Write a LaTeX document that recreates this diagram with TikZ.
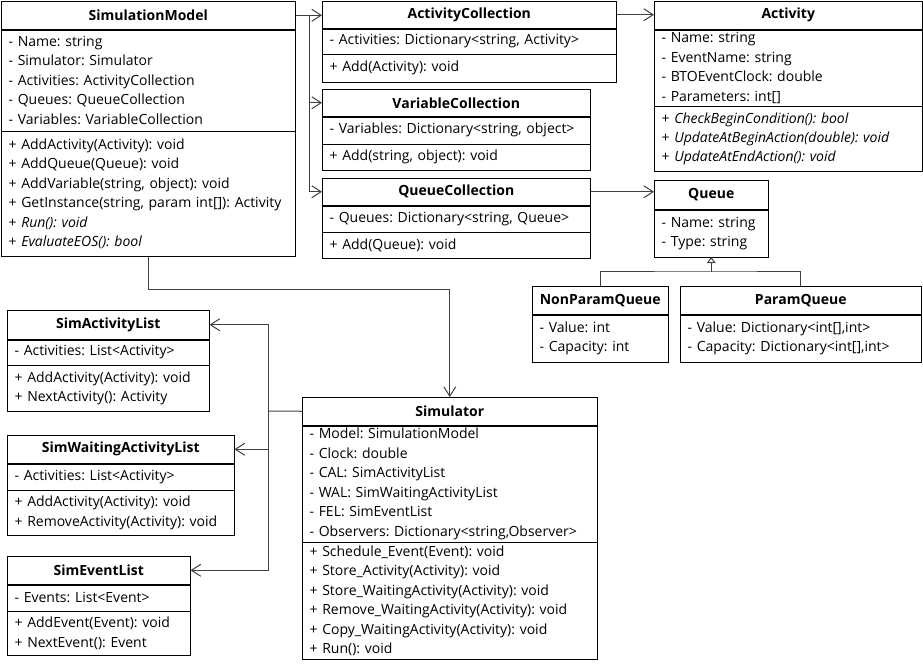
\documentclass[tikz,border=0pt]{standalone}
\usepackage{fontspec}
\setmainfont{Open Sans}
\frenchspacing
\usetikzlibrary{arrows.meta}
\begin{document}
\begin{tikzpicture}[x=.75pt,y=-.75pt,
    head/.style 2 args={draw,anchor=north west,inner sep=0pt,minimum width=#1*.75pt,minimum height=#2*.75pt,font=\fontsize{10.5}{14.6}\selectfont\bfseries},
    part/.style 2 args={draw,anchor=north west,align=left,inner xsep=5.5pt,inner ysep=0pt,text width=#1*.75pt-11pt,minimum height=#2*.75pt,font=\fontsize{10.5}{14.6}\selectfont},
    link/.style={draw=black!75,line width=.75pt},
    assoc/.style={link,-{Straight Barb[length=7pt,width=9pt]}},
    gen/.style={link,-{Triangle[open,length=4.5pt,width=6.5pt]}}]
    \useasboundingbox (0,0) rectangle (923,666);
    \node[head={294}{28}] (sm) at (1,1) {SimulationModel};
    \node[part={294}{101}] (sm-a) at (sm.south west) {- Name: string\\- Simulator: Simulator\\- Activities: ActivityCollection\\- Queues: QueueCollection\\- Variables: VariableCollection};
    \node[part={294}{125}] (sm-m) at (sm-a.south west) {+ AddActivity(Activity): void\\+ AddQueue(Queue): void\\+ AddVariable(string, object): void\\+ GetInstance(string, param int[]): Activity\\+ \textit{Run(): void}\\+ \textit{EvaluateEOS(): bool}};
    \node[head={294}{27}] (ac) at (322,1) {ActivityCollection};
    \node[part={294}{25}] (ac-a) at (ac.south west) {- Activities: Dictionary<string, Activity>};
    \node[part={294}{28}] (ac-m) at (ac-a.south west) {+ Add(Activity): void};
    \node[head={268}{27}] (vc) at (322,89) {VariableCollection};
    \node[part={268}{27}] (vc-a) at (vc.south west) {- Variables: Dictionary<string, object>};
    \node[part={268}{26}] (vc-m) at (vc-a.south west) {+ Add(string, object): void};
    \node[head={268}{27}] (qc) at (322,178) {QueueCollection};
    \node[part={268}{26}] (qc-a) at (qc.south west) {- Queues: Dictionary<string, Queue>};
    \node[part={268}{26}] (qc-m) at (qc-a.south west) {+ Add(Queue): void};
    \node[head={268}{28}] (act) at (654,1) {Activity};
    \node[part={268}{76}] (act-a) at (act.south west) {- Name: string\\- EventName: string\\- BTOEventClock: double\\- Parameters: int[]};
    \node[part={268}{65}] (act-m) at (act-a.south west) {+ \textit{CheckBeginCondition(): bool}\\+ \textit{UpdateAtBeginAction(double): void}\\+ \textit{UpdateAtEndAction(): void}};
    \node[head={114}{29}] (q) at (654,180) {Queue};
    \node[part={114}{47}] (q-a) at (q.south west) {- Name: string\\- Type: string};
    \node[head={136}{28}] (npq) at (532,286) {NonParamQueue};
    \node[part={136}{47}] (npq-a) at (npq.south west) {- Value: int\\- Capacity: int};
    \node[head={241}{28}] (pq) at (680,286) {ParamQueue};
    \node[part={241}{47}] (pq-a) at (pq.south west) {- Value: Dictionary<int[],int>\\- Capacity: Dictionary<int[],int>};
    \node[head={202}{29}] (sal) at (7,310) {SimActivityList};
    \node[part={202}{25}] (sal-a) at (sal.south west) {- Activities: List<Activity>};
    \node[part={202}{46}] (sal-m) at (sal-a.south west) {+ AddActivity(Activity): void\\+ NextActivity(): Activity};
    \node[head={227}{28}] (swal) at (7,435) {SimWaitingActivityList};
    \node[part={227}{26}] (swal-a) at (swal.south west) {- Activities: List<Activity>};
    \node[part={227}{45}] (swal-m) at (swal-a.south west) {+ AddActivity(Activity): void\\+ RemoveActivity(Activity): void};
    \node[head={183}{28}] (sel) at (7,556) {SimEventList};
    \node[part={183}{26}] (sel-a) at (sel.south west) {- Events: List<Event>};
    \node[part={183}{44}] (sel-m) at (sel-a.south west) {+ AddEvent(Event): void\\+ NextEvent(): Event};
    \node[head={295}{28}] (sim) at (302,397) {Simulator};
    \node[part={295}{116}] (sim-a) at (sim.south west) {- Model: SimulationModel\\- Clock: double\\- CAL: SimActivityList\\- WAL: SimWaitingActivityList\\- FEL: SimEventList\\- Observers: Dictionary<string,Observer>};
    \node[part={295}{117}] (sim-m) at (sim-a.south west) {+ Schedule\_Event(Event): void\\+ Store\_Activity(Activity): void\\+ Store\_WaitingActivity(Activity): void\\+ Remove\_WaitingActivity(Activity): void\\+ Copy\_WaitingActivity(Activity): void\\+ Run(): void};
    \coordinate (smbus) at (309,15);
    \coordinate (simbus) at (268,411);
    \coordinate (qfork) at (q.south |- 0,272);
    \draw[assoc] (sm.east) -- (sm.east -| ac.west);
    \draw[assoc] (smbus) |- (vc.west);
    \draw[assoc] (smbus) |- (qc.west);
    \draw[assoc] (ac.east) -- (ac.east -| act.west);
    \draw[assoc] (qc.east) -- (qc.east -| q.west);
    \draw[link] (npq.north) |- (qfork) -| (pq.north);
    \draw[gen] (qfork) -- (q-a.south);
    \draw[assoc] (sm-m.south) -- ++(0,33) -| (sim.north);
    \draw[link] (sim.west) -- (simbus);
    \draw[assoc] (simbus) |- (sal.east);
    \draw[assoc] (simbus) |- (swal.east);
    \draw[assoc] (simbus) |- (sel.east);
\end{tikzpicture}
\end{document}
